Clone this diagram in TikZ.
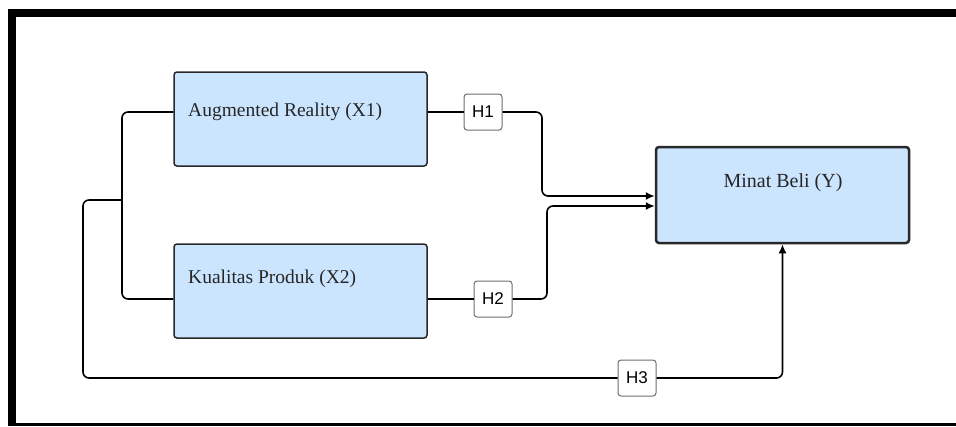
\documentclass[tikz,border=0pt]{standalone}
\usepackage{fontspec}
\setmainfont{Liberation Serif}
\newfontfamily\hfont{Liberation Sans}
\usetikzlibrary{arrows.meta,calc}

\definecolor{boxblue}{RGB}{204,229,255}
\definecolor{boxline}{RGB}{40,40,40}
\definecolor{hline}{RGB}{110,110,110}

\tikzset{
	varbox/.style={draw=boxline, fill=boxblue, line width=1.5pt, rounded corners=3pt, minimum width=253pt, inner sep=0pt},
	vartext/.style={anchor=west, inner sep=0pt, font=\fontsize{19.5}{22}\selectfont, text=black!85},
	hbox/.style={draw=hline, fill=white, line width=1pt, rounded corners=3pt, minimum width=38pt, minimum height=36pt, inner sep=0pt, font=\hfont\fontsize{17}{20}\selectfont},
	conn/.style={line width=1.6pt, rounded corners=6pt},
	tip/.style={-{Latex[length=9pt,width=8pt]}}
}

\begin{document}
\begin{tikzpicture}[x=1pt,y=-1pt]
		\useasboundingbox (0,0) rectangle (956,426);

		% frame
		\draw[line width=8pt] (956,13) -- (12,13) -- (12,426);
		\draw[line width=3pt] (8,424.5) -- (956,424.5);

		% variables
		\node[varbox, minimum height=94pt] (x1) at (300.5,119) {};
		\node[vartext] (x1text) at (188,112) {Augmented Reality (X1)};
		\node[varbox, minimum height=94pt] (x2) at (300.5,291) {};
		\node[vartext] (x2text) at (188,279) {Kualitas Produk (X2)};
		\node[varbox, minimum height=96pt, line width=2.5pt] (y) at (782.5,195) {};
		\node[vartext, anchor=center, font=\fontsize{20}{22}\selectfont] (ytext) at (783,183) {Minat Beli (Y)};

		% hypotheses
		\node[hbox] (h1) at (483,112) {H1};
		\node[hbox] (h2) at (493,299) {H2};
		\node[hbox] (h3) at (637,378) {H3};

		\coordinate (in1) at ($(y.west)+(0,1)$);
		\coordinate (in2) at ($(y.west)+(0,11)$);
		\coordinate (split) at (122,200);

		\draw[conn] (x1.east |- h1) -- (h1.west);
		\draw[conn,tip] (h1.east) -- (542,112) -- (542,196) -- (in1);
		\draw[conn] (x2.east |- h2) -- (h2.west);
		\draw[conn,tip] (h2.east) -- (547,299) -- (547,206) -- (in2);

		\draw[conn] (x1.west |- h1) -- (122,112) -- (122,299) -- (x2.west |- h2);
		\draw[conn] (split) -- (83,200) -- (83,378) -- (h3.west);
		\draw[conn,tip] (h3.east) -- (782.5,378) -- (y.south);
	\end{tikzpicture}
\end{document}
